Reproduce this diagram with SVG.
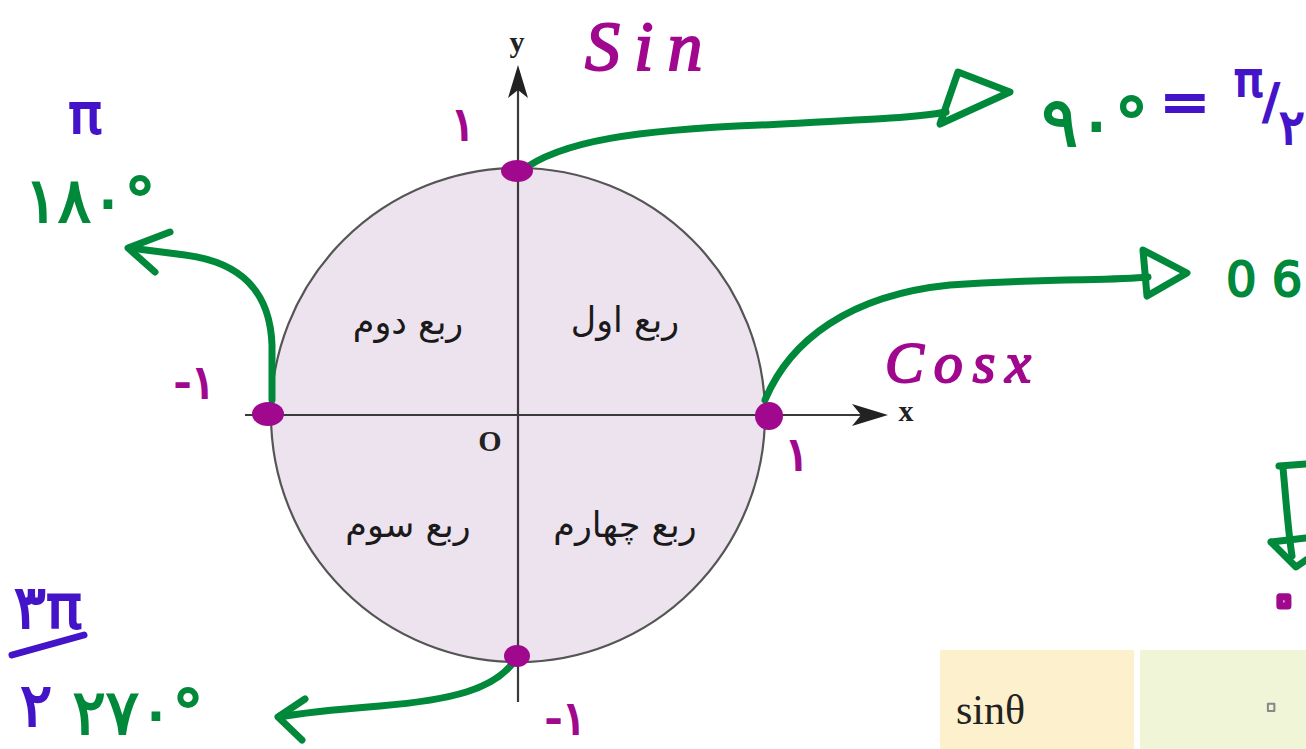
<svg xmlns="http://www.w3.org/2000/svg" width="1306" height="749" viewBox="0 0 1306 749">
<style>
  .axis{stroke:#3a3a3a;stroke-width:2.2;fill:none}
  .ink{fill:none;stroke:#00893a;stroke-width:7;stroke-linecap:round;stroke-linejoin:round}
  .dot{fill:#a0088e}
  .fa{font-family:"DejaVu Sans",sans-serif;font-size:35px;fill:#1a1a1a}
  .lbl{font-family:"Liberation Serif",serif;font-weight:bold;fill:#222}
  .mag{font-family:"DejaVu Sans",sans-serif;fill:#a0088e;stroke:#a0088e;stroke-width:2}
  .grn{font-family:"DejaVu Sans",sans-serif;fill:#00893a;stroke:#00893a;stroke-width:2}
  .blu{font-family:"DejaVu Sans",sans-serif;fill:#4414c8;stroke:#4414c8;stroke-width:2}
  .hand{font-family:"Liberation Serif",serif;font-style:italic}
</style>
<rect width="1306" height="749" fill="#ffffff"/>

<g id="circle">
  <circle cx="518" cy="415" r="247" fill="#ede3ef" stroke="#555" stroke-width="2.2"/>
</g>
<g id="axes">
  <line class="axis" x1="245" y1="415" x2="862" y2="415"/>
  <polygon points="888,415 852,404 861,415 852,426" fill="#222"/>
  <line class="axis" x1="518" y1="702" x2="518" y2="90"/>
  <polygon points="518,65 508,98 518,90 528,98" fill="#222"/>
  <text class="lbl" x="906" y="421" font-size="30" text-anchor="middle">x</text>
  <text class="lbl" x="517" y="52" font-size="30" text-anchor="middle">y</text>
  <text class="lbl" x="490" y="451" font-size="30" text-anchor="middle">O</text>
</g>

<g id="quadrants">
  <text class="fa" x="625" y="332" text-anchor="middle" direction="rtl">ربع اول</text>
  <text class="fa" x="408" y="334" text-anchor="middle" direction="rtl">ربع دوم</text>
  <text class="fa" x="408" y="537" text-anchor="middle" direction="rtl">ربع سوم</text>
  <text class="fa" x="625" y="537" text-anchor="middle" direction="rtl">ربع چهارم</text>
</g>

<g id="connectors">
  <path class="ink" d="M520,172 C560,140 640,130 760,125 C860,120 915,118 946,112"/>
  <path class="ink" d="M940,124 L958,72 L1010,92 Z"/>
  <path class="ink" d="M765,400 C790,340 850,295 950,285 C1050,278 1110,281 1148,277"/>
  <path class="ink" d="M1143,250 L1187,273 L1147,296 Z"/>
  <path class="ink" d="M272,400 L272,345 C270,290 240,262 185,255 L130,248"/>
  <path class="ink" d="M170,232 L128,248 L155,272"/>
  <path class="ink" d="M515,660 C495,690 450,700 380,706 C330,710 300,713 280,717"/>
  <path class="ink" d="M305,699 L278,717 L302,740"/>
  <path class="ink" d="M1279,466 L1306,464 M1283,468 C1286,500 1288,530 1292,556"/>
  <path class="ink" d="M1271,542 L1306,538 M1271,542 L1296,567 L1306,560"/>
</g>

<g id="points">
  <ellipse class="dot" cx="517" cy="171" rx="16" ry="11"/>
  <ellipse class="dot" cx="268" cy="414" rx="16" ry="12"/>
  <circle class="dot" cx="769" cy="416" r="14"/>
  <ellipse class="dot" cx="517" cy="656" rx="13" ry="11"/>
</g>

<g id="labels-magenta">
  <text class="mag hand" x="585" y="70" font-size="70" letter-spacing="14">Sin</text>
  <text class="mag" x="463" y="140" font-size="46" text-anchor="middle">۱</text>
  <text class="mag" x="195" y="398" font-size="46" text-anchor="middle">-۱</text>
  <text class="mag" x="797" y="470" font-size="46" text-anchor="middle">۱</text>
  <text class="mag" x="566" y="734" font-size="46" text-anchor="middle">-۱</text>
  <text class="mag hand" x="885" y="382" font-size="58" letter-spacing="10">Cosx</text>
  <text x="1304" y="622" font-family="DejaVu Sans,sans-serif" font-size="75" fill="none" stroke="#a0088e" stroke-width="7" stroke-linejoin="round" text-anchor="end">۰</text>
</g>

<g id="labels-angles">
  <text class="blu" x="85" y="133" font-size="56" text-anchor="middle">π</text>
  <text class="grn" x="90" y="222" font-size="62" text-anchor="middle">۱۸۰°</text>
  <text class="grn" x="1095" y="146" font-size="68" text-anchor="middle">۹۰°</text>
  <text class="blu" x="1185" y="122" font-size="60" text-anchor="middle">=</text>
  <text class="blu" x="1234" y="96" font-size="48">π<tspan dy="22">/</tspan><tspan dy="26">۲</tspan></text>
  <text class="grn" x="1226" y="296" font-size="48">0 6</text>
  <text class="blu" x="48" y="628" font-size="60" text-anchor="middle">۳π</text>
  <line x1="12" y1="655" x2="84" y2="635" stroke="#4414c8" stroke-width="7" stroke-linecap="round"/>
  <text class="blu" x="36" y="726" font-size="60" text-anchor="middle">۲</text>
  <text class="grn" x="138" y="734" font-size="62" text-anchor="middle">۲۷۰°</text>
</g>

<g id="table">
  <rect x="940" y="650" width="194" height="99" fill="#fdf0cc"/>
  <rect x="1140" y="650" width="166" height="99" fill="#f0f5d8"/>
  <text x="956" y="724" font-family="Liberation Serif,serif" font-size="42" fill="#222">sinθ</text>
  <text x="1271" y="724" font-family="DejaVu Sans,sans-serif" font-size="60" fill="none" stroke="#888" stroke-width="2" stroke-linejoin="round" text-anchor="middle">۰</text>
</g>
</svg>
